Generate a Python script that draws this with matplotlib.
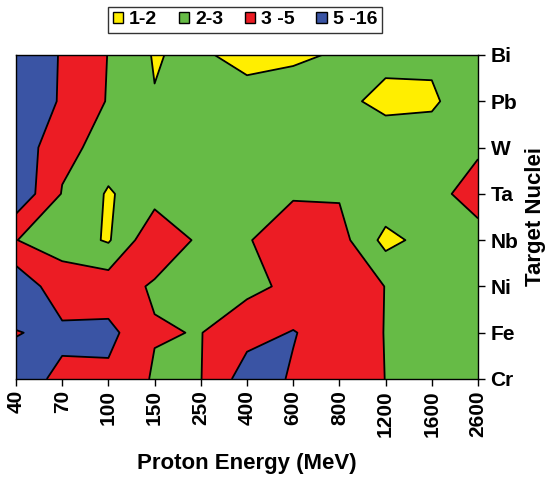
import numpy as np
import matplotlib
matplotlib.use("Agg")
import matplotlib.pyplot as plt
from matplotlib.patches import Patch

plt.rcParams['font.family'] = ['Liberation Sans', 'DejaVu Sans']
plt.rcParams['font.weight'] = 'bold'

energies = ["40", "70", "100", "150", "250", "400", "600", "800", "1200", "1600", "2600"]
nuclei = ["Cr", "Fe", "Ni", "Nb", "Ta", "W", "Pb", "Bi"]

# ratio values per nucleus (rows) and proton energy (columns)
cr = [6.0, 4.5, 4.5, 2.8, 2.95, 6.0, 4.8, 4.0, 2.98, 2.5, 2.5]
fe = [4.9, 5.5, 5.6, 3.1, 2.95, 4.3, 5.1, 4.0, 2.95, 2.5, 2.5]
ni = [6.6, 3.6, 3.6, 2.85, 2.5, 2.5, 3.43, 4.0, 2.97, 2.5, 2.5]
nb = [3.02, 2.5, 1.9, 3.8, 2.8, 2.9, 3.8, 3.4, 1.7, 2.4, 2.6]
ta = [6.5, 2.9, 1.9, 2.6, 2.6, 2.9, 2.86, 2.9, 2.73, 2.66, 3.45]
w = [6.5, 3.4, 2.5, 2.5, 2.5, 2.5, 2.5, 2.5, 2.9, 2.7, 2.85]
pb = [7.0, 4.73, 2.87, 2.05, 2.5, 2.9, 2.8, 2.38, 1.6, 1.8, 2.9]
bi = [7.0, 4.8, 2.95, 1.92, 2.3, 1.3, 1.75, 2.15, 2.4, 2.24, 2.5]

levels = [1, 2, 3, 5, 16]
level_labels = ["1-2", "2-3", "3 -5", "5 -16"]
colors = ["#FFEE00", "#66BB46", "#EC1C24", "#3A54A4"]

Z = np.array([cr, fe, ni, nb, ta, w, pb, bi])
X = np.arange(len(energies))
Y = np.arange(len(nuclei))

fig = plt.figure(figsize=(5.51, 4.78), dpi=100)
ax = fig.add_axes([16/551, 1 - 379/478, 462/551, 324/478])

ax.contourf(X, Y, Z, levels=levels, colors=colors)
ax.contour(X, Y, Z, levels=levels[1:-1], colors="black", linewidths=1.3)

ax.set_xlim(0, len(energies) - 1)
ax.set_ylim(0, len(nuclei) - 1)
ax.set_xticks(X)
ax.set_xticklabels(energies, rotation=90, fontsize=15, fontweight='bold')
ax.set_yticks(Y)
ax.set_yticklabels(nuclei, fontsize=15, fontweight='bold')
ax.yaxis.tick_right()
ax.yaxis.set_label_position("right")
ax.tick_params(axis='both', direction='out', length=5, width=1, pad=3)
ax.tick_params(axis='y', pad=4)
for s in ax.spines.values():
    s.set_linewidth(1)
ax.set_xlabel("Proton Energy (MeV)", fontsize=16, fontweight='bold', labelpad=12)
ax.set_ylabel("Target Nuclei", fontsize=16, fontweight='bold', labelpad=5)

handles = [Patch(facecolor=c, edgecolor="black", linewidth=1) for c in colors]
leg = fig.legend(handles, level_labels, loc="center", bbox_to_anchor=(245/551, 1 - 20/478),
                 ncol=4, frameon=True, fancybox=False, edgecolor="black",
                 handlelength=0.55, handleheight=0.55, handletextpad=0.3,
                 columnspacing=1.1, borderpad=0.25, prop={'weight': 'bold', 'size': 14})
leg.get_frame().set_linewidth(1)

fig.savefig("out.png", dpi=100)
